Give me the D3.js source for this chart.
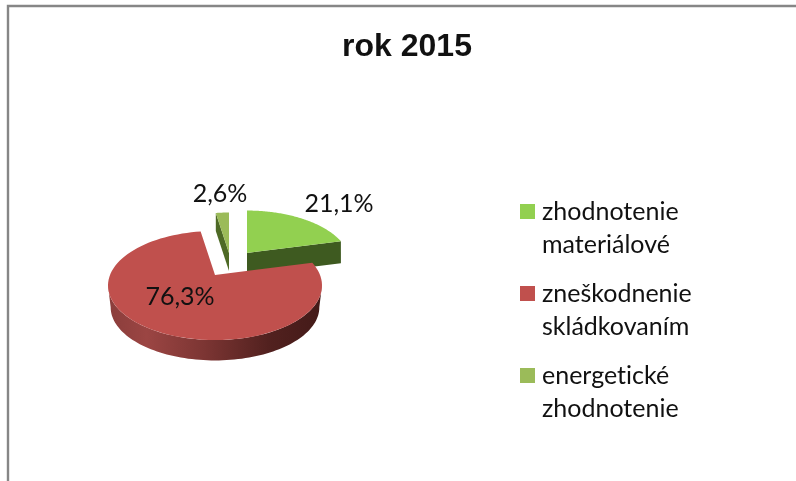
<!DOCTYPE html>
<html>
<head>
<meta charset="utf-8">
<script src="https://cdn.jsdelivr.net/npm/d3@7"></script>
<style>
html,body{margin:0;padding:0;background:#fff;overflow:hidden}
svg{display:block;filter:blur(0.45px)}
text{fill:#111;font-variant-ligatures:none}
</style>
</head>
<body>
<svg id="c" width="796" height="481"></svg>
<script>
const title = "rok 2015";
const categories = [["zhodnotenie","materiálové"],["zneškodnenie","skládkovaním"],["energetické","zhodnotenie"]];
const values = [21.1, 76.3, 2.6];
const valueLabels = ["21,1%","76,3%","2,6%"];
const colors = ["#92D050","#C0504D","#9BBB59"];
const wallColors = ["#3E5A20","#7A3331","#4E6A26"];

// layout of each exploded slice: apex on the image and size of the disc
const apex = [[247,253],[215,275],[229,253]];
const discScale = [0.965,1,0.92];
const labelPos = [[339,203],[180,296],[220,193]];
const radiusX = 105, radiusY = 52.5, persp = 0.193, depth = 20, lowerScale = 0.975;

const svg = d3.select("#c");
const defs = svg.append("defs");
const grad = defs.append("linearGradient").attr("id","redWall")
  .attr("gradientUnits","userSpaceOnUse").attr("x1",108).attr("x2",322).attr("y1",0).attr("y2",0);
[[0,"#8A3D3B"],[0.18,"#9B4543"],[0.45,"#7C3533"],[0.75,"#52211F"],[1,"#431A18"]].forEach(s=>
  grad.append("stop").attr("offset",s[0]).attr("stop-color",s[1]));

// frame
svg.append("path").attr("d","M8,481V6H796").attr("fill","none").attr("stroke","#868686").attr("stroke-width",2.4);

const pie = d3.pie().sort(null).value(d=>d);
const arcs = pie(values);

function pt(i,t,dy,k){
  const w = 1+persp*Math.cos(t), s = discScale[i]*(k||1);
  return [apex[i][0]+s*radiusX*Math.sin(t)/w, apex[i][1]-s*radiusY*Math.cos(t)/w+(dy||0)];
}
function rim(i,a0,a1,dy,k){
  const n = 90;
  return d3.range(n+1).map(j=>pt(i,a0+(a1-a0)*j/n,dy,k));
}
const line = d3.line();
const R = 1, G = 0, S = 2;

// small slice: only its left cut face shows as a wall
{
  const a = arcs[S], p = pt(S,a.startAngle), p2 = pt(S,a.startAngle,depth-2);
  const ap = [apex[S][0],apex[S][1]], ap2 = [ap[0],ap[1]+depth-2];
  svg.append("path").attr("d",line([p,p2,ap2,ap])+"Z").attr("fill",wallColors[S]);
  svg.append("path").attr("d",line([ap,...rim(S,a.startAngle,a.endAngle)])+"Z").attr("fill",colors[S]);
}
// first slice: cut face on the right side
{
  const a = arcs[G], p = pt(G,a.endAngle), p2 = pt(G,a.endAngle,depth+2);
  const ap = apex[G], ap2 = [ap[0],ap[1]+depth+2];
  svg.append("path").attr("d",line([ap,p,p2,ap2])+"Z").attr("fill",wallColors[G]);
  svg.append("path").attr("d",line([ap,...rim(G,a.startAngle,a.endAngle)])+"Z").attr("fill",colors[G]);
}
// main slice: wall runs between the two silhouette tangents of the disc
{
  const a = arcs[R];
  const t0 = Math.acos(-persp), t1 = 2*Math.PI-t0;
  const top = rim(R,t0,t1);
  const low = rim(R,t0,t1,depth+2,lowerScale).reverse();
  svg.append("path").attr("d",line([...top,...low])+"Z").attr("fill","url(#redWall)");
  svg.append("path").attr("d",line([apex[R],...rim(R,a.startAngle,a.endAngle)])+"Z").attr("fill",colors[R]);
}

const labelFont = "Lato, 'Open Sans', sans-serif";
svg.append("text").text(title).attr("x",407).attr("y",56).attr("text-anchor","middle")
  .attr("font-family","'Liberation Sans', Arial, sans-serif").attr("font-weight","bold").attr("font-size",32);

valueLabels.forEach((t,i)=>svg.append("text").text(t).attr("x",labelPos[i][0]).attr("y",labelPos[i][1])
  .attr("dy","0.35em").attr("text-anchor","middle").attr("font-family",labelFont).attr("font-size",25));

const legendY = d3.scalePoint().domain(d3.range(categories.length)).range([211,375]);
categories.forEach((c,i)=>{
  const y = legendY(i);
  svg.append("rect").attr("x",520).attr("y",y-7).attr("width",15).attr("height",15).attr("fill",colors[i]);
  c.forEach((l,j)=>svg.append("text").text(l).attr("x",542).attr("y",y+9+j*32.5)
    .attr("font-family",labelFont).attr("font-size",25));
});
</script>
</body>
</html>
